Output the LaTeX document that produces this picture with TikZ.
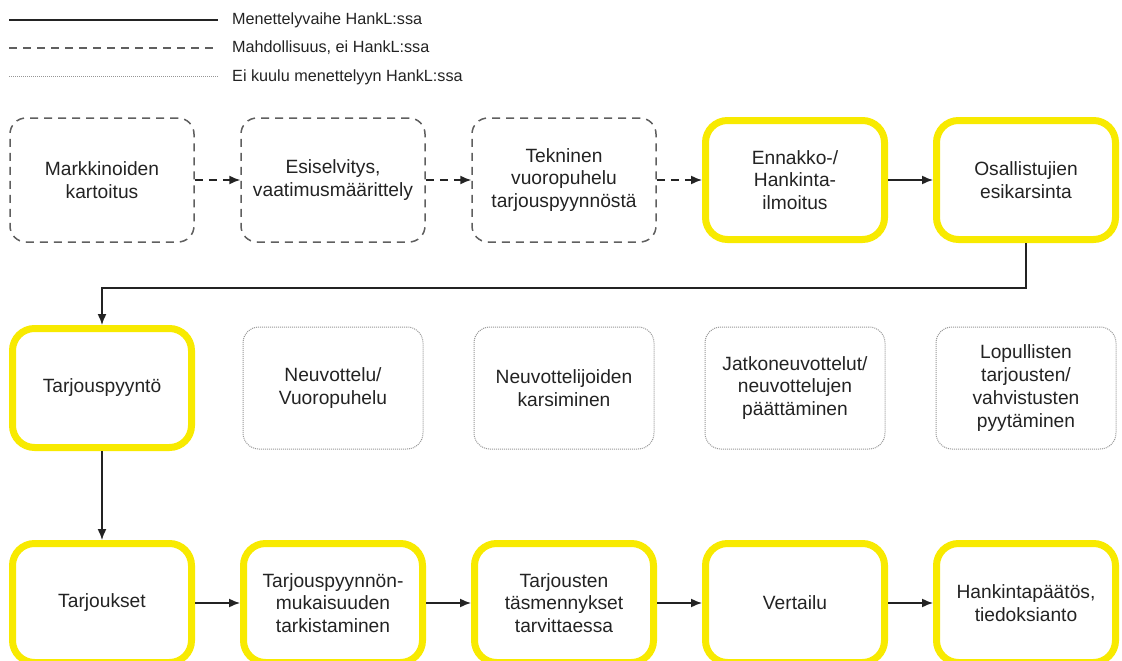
\documentclass[tikz,border=0pt]{standalone}
\usepackage{fontspec}
\setmainfont{Liberation Sans}
\usetikzlibrary{arrows.meta}
\definecolor{yel}{RGB}{248,234,0}
\definecolor{ink}{RGB}{35,35,35}
\definecolor{dashc}{RGB}{95,95,95}
\definecolor{dotc}{RGB}{150,150,150}
\begin{document}
\begin{tikzpicture}[x=1pt,y=-1pt,
  box/.style={align=center, font=\fontsize{19.2}{22.8}\selectfont, text=ink, inner sep=0pt},
  hank/.style={box, draw=yel, line width=7pt, rounded corners=22pt, minimum width=179pt, minimum height=119pt},
  maybe/.style={box, draw=dashc, line width=1.5pt, dash pattern=on 8pt off 6pt, rounded corners=16pt, minimum width=184pt, minimum height=124pt},
  extra/.style={box, draw=dotc, line width=1pt, dash pattern=on 1pt off 1pt, rounded corners=16pt, minimum width=180pt, minimum height=122pt},
  flow/.style={draw=ink, line width=1.5pt, -{Latex[length=11pt,width=9pt]}},
  flowd/.style={flow, dash pattern=on 8pt off 6pt},
  legtext/.style={anchor=west, font=\fontsize{16.2}{20}\selectfont, text=ink, inner sep=0pt},
]
\useasboundingbox (0,0) rectangle (1122,661);

% legend
\coordinate (la1) at (9,20);  \coordinate (lb1) at (218,20);
\coordinate (la2) at (9,48);  \coordinate (lb2) at (218,48);
\coordinate (la3) at (9,77);  \coordinate (lb3) at (218,77);
\draw[draw=ink, line width=1.5pt] (la1) -- (lb1);
\draw[draw=dashc, line width=1.5pt, dash pattern=on 8pt off 6pt] (la2) -- (lb2);
\draw[draw=dotc, line width=1pt, dash pattern=on 1pt off 1pt] (la3) -- (lb3);
\node[legtext] (lt1) at (232,20) {Menettelyvaihe HankL:ssa};
\node[legtext] (lt2) at (232,48) {Mahdollisuus, ei HankL:ssa};
\node[legtext] (lt3) at (232,77) {Ei kuulu menettelyyn HankL:ssa};

% row 1
\node[maybe] (m1) at (102,180) {Markkinoiden\\kartoitus};
\node[maybe] (m2) at (333,180) {Esiselvitys,\\vaatimusmäärittely};
\node[maybe] (m3) at (564,180) {Tekninen\\vuoropuhelu\\tarjouspyynnöstä};
\node[hank]  (e4) at (795,180) {Ennakko-/\\Hankinta-\\ilmoitus};
\node[hank]  (o5) at (1026,180) {Osallistujien\\esikarsinta};

% row 2
\node[hank]  (tp) at (102,388) {Tarjouspyyntö};
\node[extra] (n2) at (333,388) {Neuvottelu/\\Vuoropuhelu};
\node[extra] (n3) at (564,388) {Neuvottelijoiden\\karsiminen};
\node[extra] (n4) at (795,388) {Jatkoneuvottelut/\\neuvottelujen\\päättäminen};
\node[extra] (n5) at (1026,388) {Lopullisten\\tarjousten/\\vahvistusten\\pyytäminen};

% row 3
\node[hank] (tj) at (102,603) {Tarjoukset};
\node[hank] (tm) at (333,603) {Tarjouspyynnön-\\mukaisuuden\\tarkistaminen};
\node[hank] (tt) at (564,603) {Tarjousten\\täsmennykset\\tarvittaessa};
\node[hank] (ve) at (795,603) {Vertailu};
\node[hank] (hp) at (1026,603) {Hankintapäätös,\\tiedoksianto};

% connectors
\draw[flowd] (m1) -- (m2);
\draw[flowd] (m2) -- (m3);
\draw[flowd] (m3) -- (e4);
\draw[flow] (e4) -- (o5);
\coordinate (bend) at (1026,288);
\draw[flow] (o5.south) -- (bend) -| (tp.north);
\draw[flow] (tp) -- (tj);
\draw[flow] (tj) -- (tm);
\draw[flow] (tm) -- (tt);
\draw[flow] (tt) -- (ve);
\draw[flow] (ve) -- (hp);
\end{tikzpicture}
\end{document}
